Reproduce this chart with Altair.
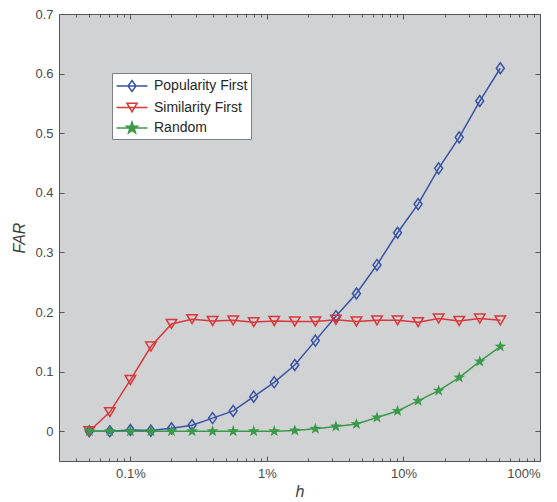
import math
import altair as alt
import pandas as pd

# ---------------- data ----------------
h_pct = [0.05, 0.0707, 0.1, 0.1414, 0.2, 0.2828, 0.4, 0.5657, 0.8, 1.131,
         1.6, 2.263, 3.2, 4.525, 6.4, 9.051, 12.8, 18.1, 25.6, 36.2, 51.2]
popularity = [0.000, 0.000, 0.002, 0.001, 0.005, 0.010, 0.022, 0.034, 0.058, 0.082,
              0.111, 0.152, 0.193, 0.231, 0.279, 0.333, 0.381, 0.441, 0.493, 0.554, 0.609]
similarity = [0.000, 0.032, 0.086, 0.142, 0.180, 0.188, 0.185, 0.186, 0.183, 0.185,
              0.184, 0.184, 0.187, 0.184, 0.186, 0.186, 0.183, 0.189, 0.185, 0.189, 0.186]
random_sel = [0.000, 0.000, 0.000, 0.000, 0.000, 0.000, 0.000, 0.000, 0.000, 0.000,
              0.001, 0.004, 0.008, 0.012, 0.023, 0.034, 0.051, 0.068, 0.090, 0.117, 0.142]

series_names = ["Popularity First", "Similarity First", "Random"]
series_values = [popularity, similarity, random_sel]
colors = ["#3953a4", "#d9373a", "#3b9a4a"]

x_major = [0.1, 1, 10, 100]
x_minor = [0.04, 0.05, 0.06, 0.07, 0.08, 0.09,
           0.2, 0.3, 0.4, 0.5, 0.6, 0.7, 0.8, 0.9,
           2, 3, 4, 5, 6, 7, 8, 9,
           20, 30, 40, 50, 60, 70, 80, 90]
y_ticks = [0, 0.1, 0.2, 0.3, 0.4, 0.5, 0.6, 0.7]

rows = []
for name, vals in zip(series_names, series_values):
    for hv, fv in zip(h_pct, vals):
        rows.append({"h": hv, "far": fv, "series": name})
df = pd.DataFrame(rows)

# ---------------- marker shapes (unit-square paths) ----------------
def path_from(pts, sx=1.0, sy=1.0):
    return "M" + "L".join(f"{x*sx:.3f},{y*sy:.3f}" for x, y in pts) + "Z"

diamond_pts = [(0, -1), (0.72, 0), (0, 1), (-0.72, 0)]
tri_pts = [(-1, -0.85), (1, -0.85), (0, 0.85)]
star_pts = []
for k in range(10):
    r = 1.0 if k % 2 == 0 else 0.4
    a = math.radians(-90 + 36 * k)
    star_pts.append((r * math.cos(a), r * math.sin(a)))
marker_pts = [diamond_pts, tri_pts, star_pts]
marker_paths = [path_from(p) for p in marker_pts]
marker_sizes = [121, 110, 150]
marker_filled = [False, False, True]
legend_scale = [0.61, 0.56, 0.66]
legend_paths = ["M-1.72,0L1.72,0" + path_from(p, s, s) for p, s in zip(marker_pts, legend_scale)]

# ---------------- scales ----------------
xs = alt.Scale(type="log", domain=[0.03, 100])
ys = alt.Scale(domain=[-0.05, 0.7], nice=False, zero=False)

FONT = "Liberation Sans"
LABEL_COLOR = "#4a4a4a"
TICK_COLOR = "#555555"

base = alt.Chart(df)

# main axes: labels and titles
main_axes = base.mark_point(opacity=0).encode(
    x=alt.X("h:Q", scale=xs, axis=alt.Axis(
        orient="bottom", values=x_major, labelExpr="datum.value + '%'",
        ticks=False, domain=False, grid=False, labelPadding=6,
        labelFont=FONT, labelFontSize=13, labelColor=LABEL_COLOR,
        title="h", titleFont=FONT, titleFontSize=16, titleFontStyle="italic",
        titleFontWeight="normal", titleColor="#404040", titlePadding=3)),
    y=alt.Y("far:Q", scale=ys, axis=alt.Axis(
        orient="left", values=y_ticks, format="~g",
        ticks=False, domain=False, grid=False, labelPadding=6,
        labelFont=FONT, labelFontSize=13, labelColor=LABEL_COLOR,
        title="FAR", titleFont=FONT, titleFontSize=16, titleFontStyle="italic",
        titleFontWeight="normal", titleColor="#404040", titlePadding=7)),
)

def tick_axis(orient, values, size):
    return alt.Axis(orient=orient, values=values, labels=False, domain=False,
                    grid=False, ticks=True, tickSize=size, offset=-size,
                    tickColor=TICK_COLOR, tickWidth=1, title=None)

tick_layers = [
    base.mark_point(opacity=0).encode(
        x=alt.X("h:Q", scale=xs, axis=tick_axis("bottom", x_major, 5)),
        y=alt.Y("far:Q", scale=ys, axis=tick_axis("left", y_ticks, 5))),
    base.mark_point(opacity=0).encode(
        x=alt.X("h:Q", scale=xs, axis=tick_axis("bottom", x_minor, 3)),
        y=alt.Y("far:Q", scale=ys, axis=tick_axis("right", y_ticks, 5))),
    base.mark_point(opacity=0).encode(
        x=alt.X("h:Q", scale=xs, axis=tick_axis("top", x_major, 5)),
        y=alt.Y("far:Q", scale=ys, axis=None)),
    base.mark_point(opacity=0).encode(
        x=alt.X("h:Q", scale=xs, axis=tick_axis("top", x_minor, 3)),
        y=alt.Y("far:Q", scale=ys, axis=None)),
]

data_layers = []
for name, col, shp, sz, fil in zip(series_names, colors, marker_paths, marker_sizes, marker_filled):
    sub = base.transform_filter(alt.datum.series == name)
    data_layers.append(sub.mark_line(color=col, strokeWidth=1.5).encode(
        x=alt.X("h:Q", scale=xs, axis=None),
        y=alt.Y("far:Q", scale=ys, axis=None)))
    data_layers.append(sub.mark_point(
        shape=shp, size=sz, filled=fil, color=col, strokeWidth=1.5, opacity=1).encode(
        x=alt.X("h:Q", scale=xs, axis=None),
        y=alt.Y("far:Q", scale=ys, axis=None)))

leg = alt.Legend(title=None, orient="none", legendX=53, legendY=59,
                 fillColor="white", strokeColor="#808080", padding=3,
                 symbolSize=324, symbolStrokeWidth=1.5, symbolOpacity=1,
                 symbolOffset=7,
                 labelFont=FONT, labelFontSize=14, labelColor="#262626",
                 labelOffset=12, rowPadding=2.5,
                 labelExpr="datum.label + '\u2007\u2007\u2007'")
legend_layer = base.transform_filter("false").mark_point(strokeWidth=1.5, opacity=1).encode(
    x=alt.X("h:Q", scale=xs, axis=None),
    y=alt.Y("far:Q", scale=ys, axis=None),
    shape=alt.Shape("series:N", scale=alt.Scale(domain=series_names, range=legend_paths), legend=leg),
    stroke=alt.Stroke("series:N", scale=alt.Scale(domain=series_names, range=colors), legend=leg),
    fill=alt.Fill("series:N", scale=alt.Scale(domain=series_names,
                                              range=["transparent", "transparent", colors[2]]), legend=leg),
)

chart = alt.layer(main_axes, *tick_layers, *data_layers, legend_layer).resolve_axis(
    x="independent", y="independent"
).properties(
    width=481, height=447,
    autosize=alt.AutoSizeParams(type="none"),
    padding={"left": 51, "top": 6, "right": 9, "bottom": 39},
    background="white",
).configure_view(
    fill="#d1d2d4", stroke="#555555", strokeWidth=1
)

chart.save("out.html", embed_options={"renderer": "svg", "actions": False})
